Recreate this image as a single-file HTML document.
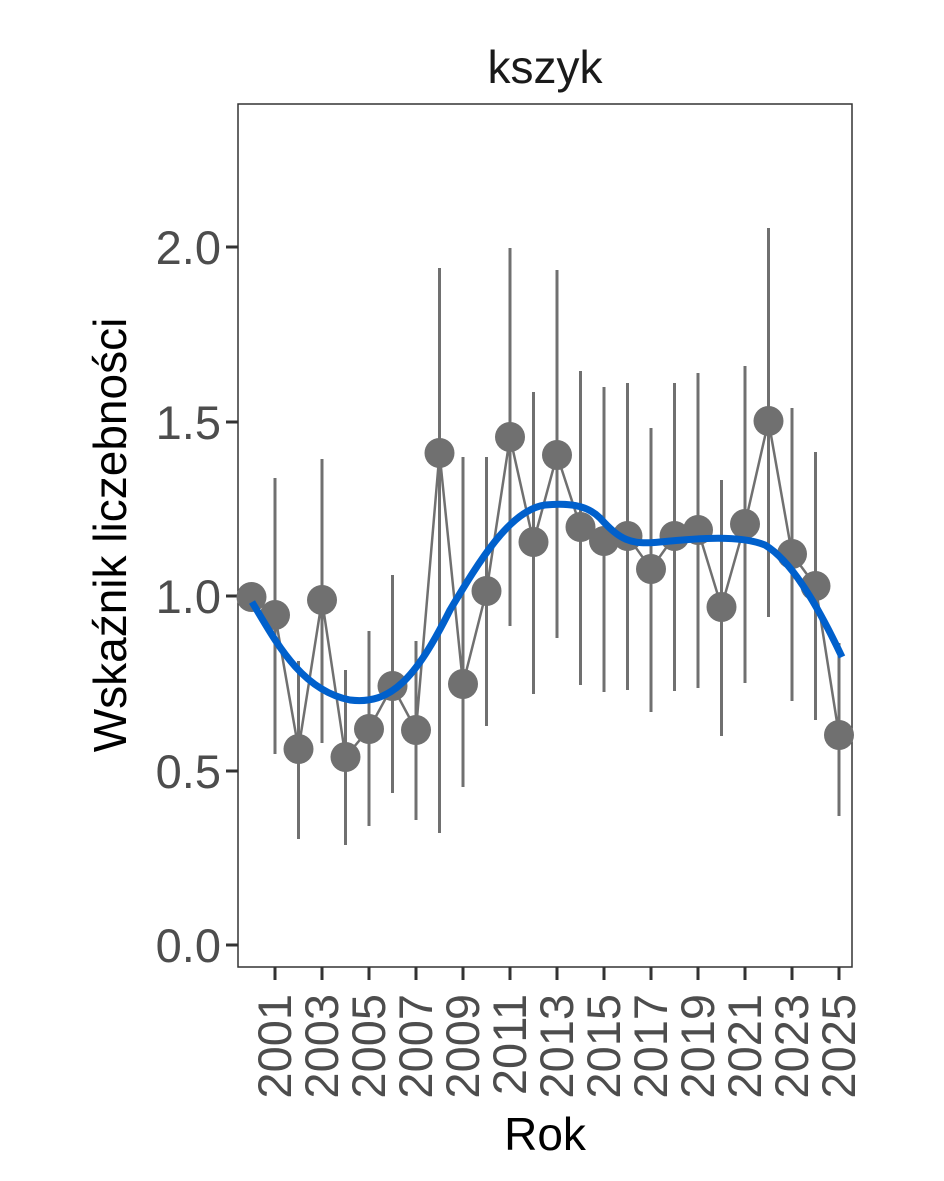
<!DOCTYPE html><html><head><style>body{margin:0;background:#fff}svg{display:block}</style></head><body>
<svg width="944" height="1181" xmlns="http://www.w3.org/2000/svg" font-family="Liberation Sans, sans-serif">
<rect width="944" height="1181" fill="#fff"/>
<text x="545" y="83" font-size="46" text-anchor="middle" fill="#1a1a1a">kszyk</text>
<rect x="238" y="104" width="614" height="863" fill="none" stroke="#333" stroke-width="1.5"/>
<g stroke="#333" stroke-width="3">
<line x1="226" y1="945" x2="238" y2="945"/><line x1="226" y1="771" x2="238" y2="771"/><line x1="226" y1="596" x2="238" y2="596"/><line x1="226" y1="422" x2="238" y2="422"/><line x1="226" y1="247" x2="238" y2="247"/>
</g>
<g font-size="47" fill="#4d4d4d" text-anchor="end">
<text x="221" y="962">0.0</text><text x="221" y="788">0.5</text><text x="221" y="613">1.0</text><text x="221" y="439">1.5</text><text x="221" y="264">2.0</text>
</g>
<g id="xt" stroke="#333" stroke-width="3"></g>
<g id="xl" font-size="47" fill="#4d4d4d"></g>
<text transform="translate(126,535) rotate(-90)" font-size="46" text-anchor="middle" fill="#000">Wskaźnik liczebności</text>
<text x="545" y="1150" font-size="46" text-anchor="middle" fill="#000">Rok</text>
<g id="eb" stroke="#707070" stroke-width="3"></g>
<polyline id="ln" fill="none" stroke="#707070" stroke-width="2.5"/>
<g id="pt" fill="#707070"></g>
<path d="M252,602 C275,640 300,690 350,700 C390,705 415,680 450,610 C480,560 510,510 545,505 C575,502 590,508 600,518 C620,540 630,545 660,542 C700,538 740,535 765,545 C790,560 815,600 842,657" fill="none" stroke="#0060cc" stroke-width="7"/>
<script>
var d=[[2000,597],[2001,615,478,754],[2002,749,661,839],[2003,600,459,743],[2004,757,670,845],[2005,729,631,826],[2006,686,575,793],[2007,730,641,820],[2008,453,268,833],[2009,684,457,787],[2010,591,457,726],[2011,437,248,626],[2012,542,392,694],[2013,455,270,638],[2014,527,371,685],[2015,541,387,692],[2016,536,383,690],[2017,569,428,712],[2018,536,383,691],[2019,530,373,688],[2020,607,480,736],[2021,524,366,683],[2022,421,228,617],[2023,554,408,701],[2024,586,452,720],[2025,735,643,816]];
var ns="http://www.w3.org/2000/svg";function X(y){return 251.5+(y-2000)*23.5}
function el(p,t,a){var e=document.createElementNS(ns,t);for(var k in a)e.setAttribute(k,a[k]);document.getElementById(p).appendChild(e);return e}
var pts=[];d.forEach(function(r){var x=X(r[0]);pts.push(x+","+r[1]);if(r.length>2)el("eb","line",{x1:x,x2:x,y1:r[2],y2:r[3]});el("pt","circle",{cx:x,cy:r[1],r:15});});
document.getElementById("ln").setAttribute("points",pts.join(" "));
for(var y=2001;y<=2025;y+=2){var x=X(y);el("xt","line",{x1:x,x2:x,y1:967,y2:980});var t=el("xl","text",{transform:"translate("+(x+16)+",994) rotate(-90)","text-anchor":"end"});t.textContent=y;}
</script>
</svg></body></html>
